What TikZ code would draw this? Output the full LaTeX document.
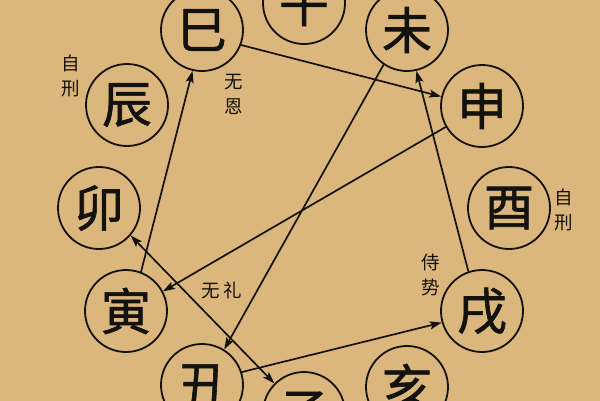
\documentclass[tikz,border=0pt]{standalone}
\usepackage{fontspec}
\newfontfamily\cjk{Noto Sans CJK SC}
\newfontfamily\cjkb[FakeBold=1.2]{Noto Sans CJK SC}
\usetikzlibrary{arrows.meta}
\definecolor{bgtan}{RGB}{219,183,125}
\definecolor{ink}{RGB}{20,18,15}
\tikzset{
  branch/.style={circle,draw=ink,line width=1.8pt,minimum size=82pt,inner sep=0pt,
    font=\cjkb\fontsize{50}{50}\selectfont,text=ink},
  lbl/.style={font=\cjk\fontsize{18.5}{25}\selectfont,text=ink,align=center,inner sep=0pt},
  conn/.style={draw=ink,line width=1.7pt,-{Stealth[length=12pt,width=8pt,inset=2.5pt]}},
  conn2/.style={draw=ink,line width=1.7pt,{Stealth[length=12pt,width=8pt,inset=2.5pt]}-{Stealth[length=12pt,width=8pt,inset=2.5pt]}}
}
\begin{document}
\begin{tikzpicture}[x=1pt,y=-1pt]
\useasboundingbox (0,0) rectangle (600,400);
\fill[bgtan] (-10,-10) rectangle (610,410);
\node[branch] (wu)   at (304,3)   {午};
\node[branch] (wei)  at (407,30)  {未};
\node[branch] (shen) at (482,106) {申};
\node[branch] (you)  at (509,208) {酉};
\node[branch] (xu)   at (482,311) {戌};
\node[branch] (hai)  at (407,387) {亥};
\node[branch] (zi)   at (304,413) {子};
\node[branch] (chou) at (202,385) {丑};
\node[branch] (yin)  at (126,311) {寅};
\node[branch] (mao)  at (99,208)  {卯};
\node[branch] (chen) at (127,105) {辰};
\node[branch] (si)   at (202,30)  {巳};

\node[lbl] (l1) at (71,76)  {自\\刑};
\node[lbl] (l2) at (234,94) {无\\恩};
\node[lbl] (l3) at (564,210) {自\\刑};
\node[lbl] (l4) at (222,290) {无\,礼};
\node[lbl] (l5) at (431,275) {侍\\势};

\draw[conn] (si.-21) -- (shen.167);
\draw[conn] (yin.69) -- (si.-103);
\draw[conn] (shen.-150) -- (yin.28);
\draw[conn] (wei.-124) -- (chou.58);
\draw[conn] (xu.109) -- (wei.-77);
\draw[conn] (chou.18) -- (xu.-164);
\draw[conn2] (mao.-41) -- (zi.135);
\end{tikzpicture}
\end{document}
